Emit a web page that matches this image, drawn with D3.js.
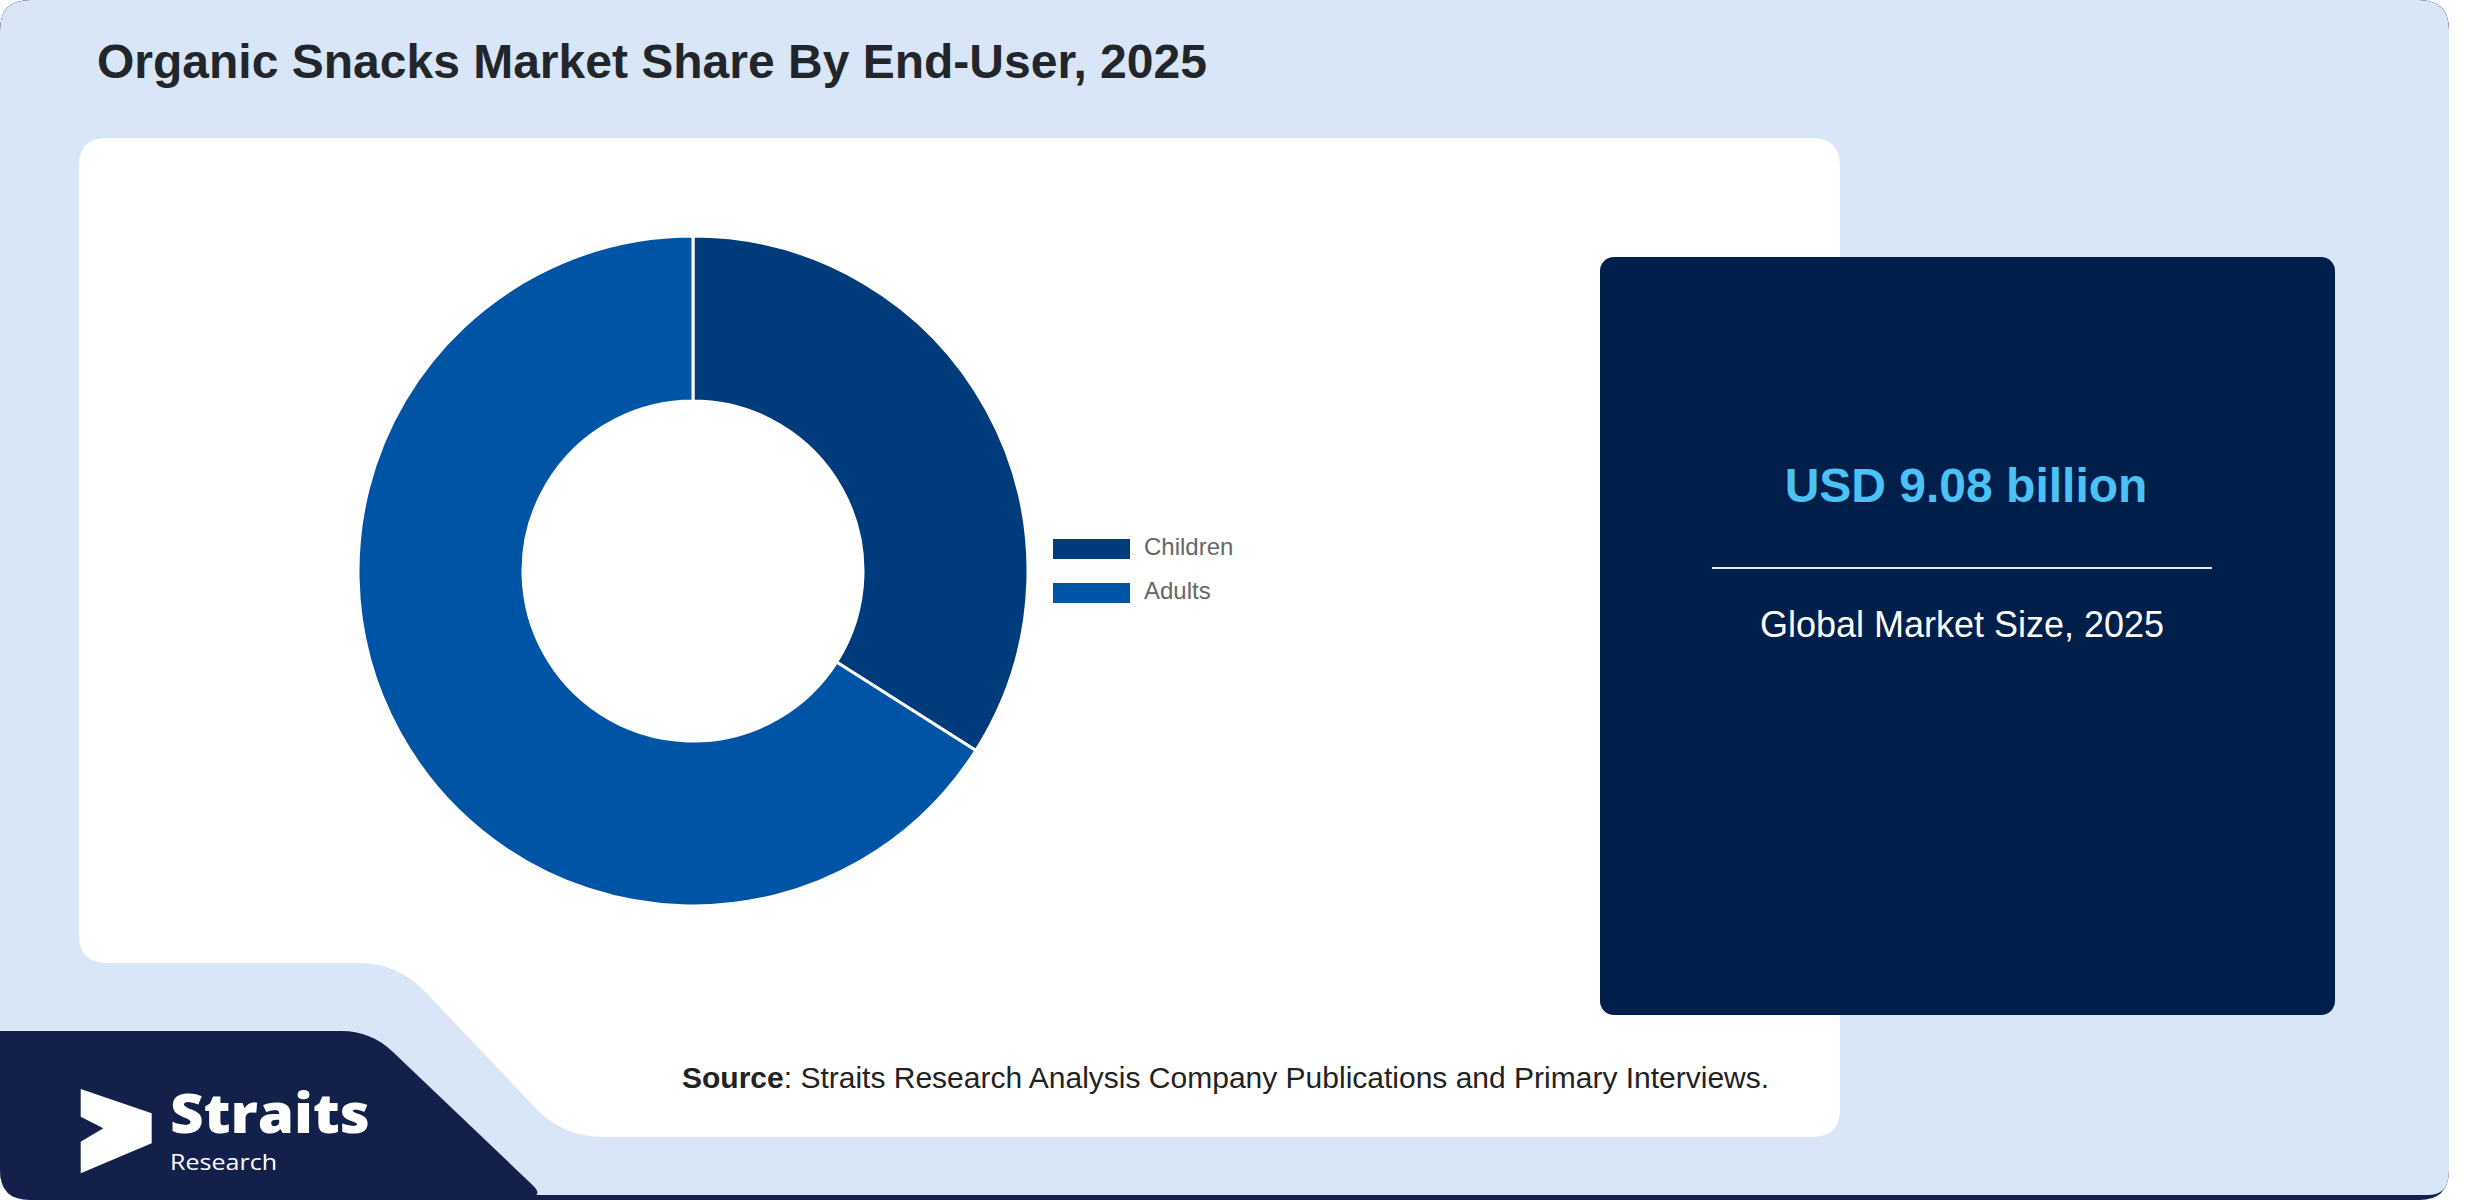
<!DOCTYPE html>
<html>
<head>
  <meta charset="utf-8">
  <script src="https://cdn.jsdelivr.net/npm/d3@7"></script>
  <style>
    body { margin: 0; background: #ffffff; }
    svg { display: block; font-family: "Liberation Sans", Arial, sans-serif; }
  </style>
</head>
<body>
  <svg width="2480" height="1200"></svg>
<script>
  // data
  const categories = ['Children', 'Adults'];
  const shares = [34, 66];
  const sliceColors = ['#003b7b', '#0054a6'];
  const marketValue = 'USD 9.08 billion';
  const marketLabel = 'Global Market Size, 2025';
  const title = 'Organic Snacks Market Share By End-User, 2025';

  const svg = d3.select('svg');

  // polygon with rounded corners (quadratic at each vertex)
  function roundedPoly(pts, r) {
    const n = pts.length;
    let d = '';
    for (let i = 0; i < n; i++) {
      const p0 = pts[(i - 1 + n) % n], p1 = pts[i], p2 = pts[(i + 1) % n];
      const rr = Array.isArray(r) ? r[i] : r;
      const l1 = Math.hypot(p1[0] - p0[0], p1[1] - p0[1]);
      const l2 = Math.hypot(p2[0] - p1[0], p2[1] - p1[1]);
      const a = [p1[0] + (p0[0] - p1[0]) * Math.min(rr / l1, 0.5), p1[1] + (p0[1] - p1[1]) * Math.min(rr / l1, 0.5)];
      const b = [p1[0] + (p2[0] - p1[0]) * Math.min(rr / l2, 0.5), p1[1] + (p2[1] - p1[1]) * Math.min(rr / l2, 0.5)];
      d += (i === 0 ? 'M' : 'L') + a[0] + ',' + a[1] + ' Q' + p1[0] + ',' + p1[1] + ' ' + b[0] + ',' + b[1] + ' ';
    }
    return d + 'Z';
  }

  // outer card
  const cardW = 2449, cardH = 1200;
  svg.append('clipPath').attr('id', 'card')
    .append('path').attr('d', roundedPoly([[0, 0], [cardW, 0], [cardW, cardH], [0, cardH]], 30));
  const card = svg.append('g').attr('clip-path', 'url(#card)');

  card.append('rect').attr('width', cardW).attr('height', cardH).attr('fill', '#13214a');
  card.append('path')
    .attr('d', roundedPoly([[0, 0], [cardW, 0], [cardW, 1195], [0, 1195]], [30, 30, 22, 0]))
    .attr('fill', '#d9e6f8');

  // navy band bottom-left
  card.append('path')
    .attr('d', roundedPoly([[0, 1031], [371, 1031], [545, 1197], [0, 1197]], [0, 30, 18, 0]))
    .attr('fill', '#13214a');

  // white panel
  card.append('path')
    .attr('d', roundedPoly([[79, 138], [1840, 138], [1840, 1137], [563, 1137], [398, 963], [79, 963]], [28, 28, 28, 40, 40, 28]))
    .attr('fill', '#ffffff');

  // title
  svg.append('text')
    .attr('x', 97)
    .attr('y', 78)
    .attr('font-size', 48)
    .attr('font-weight', 'bold')
    .attr('fill', '#22262b')
    .text(title);

  // donut
  const cx = 693, cy = 571;
  const pie = d3.pie().sort(null).value(d => d)(shares);
  const arc = d3.arc().innerRadius(170).outerRadius(335);
  const donut = svg.append('g').attr('transform', `translate(${cx}, ${cy})`);
  donut.selectAll('path')
    .data(pie)
    .enter()
    .append('path')
    .attr('d', arc)
    .attr('fill', (d, i) => sliceColors[i])
    .attr('stroke', '#ffffff')
    .attr('stroke-width', 3);

  // legend
  const legendY = d3.scalePoint().domain(categories).range([539, 583]);
  const legend = svg.selectAll('.legend')
    .data(categories)
    .enter()
    .append('g')
    .attr('class', 'legend')
    .attr('transform', d => `translate(1053, ${legendY(d)})`);
  legend.append('rect')
    .attr('width', 77)
    .attr('height', 20)
    .attr('fill', (d, i) => sliceColors[i]);
  legend.append('text')
    .attr('x', 91)
    .attr('y', 16)
    .attr('font-size', 24)
    .attr('fill', '#666666')
    .text(d => d);

  // market size box
  svg.append('rect')
    .attr('x', 1600).attr('y', 257)
    .attr('width', 735).attr('height', 758)
    .attr('rx', 14)
    .attr('fill', '#011f4b');
  svg.append('text')
    .attr('x', 1966).attr('y', 502)
    .attr('text-anchor', 'middle')
    .attr('font-size', 48)
    .attr('font-weight', 'bold')
    .attr('fill', '#4cc2f4')
    .text(marketValue);
  svg.append('line')
    .attr('x1', 1712).attr('x2', 2212)
    .attr('y1', 568).attr('y2', 568)
    .attr('stroke', '#e6e9ef')
    .attr('stroke-width', 2);
  svg.append('text')
    .attr('x', 1962).attr('y', 637)
    .attr('text-anchor', 'middle')
    .attr('font-size', 36)
    .attr('fill', '#ffffff')
    .text(marketLabel);

  // source
  const source = svg.append('text')
    .attr('x', 682).attr('y', 1088)
    .attr('font-size', 30)
    .attr('fill', '#222222');
  source.append('tspan').attr('font-weight', 'bold').text('Source');
  source.append('tspan').text(': Straits Research Analysis Company Publications and Primary Interviews.');

  // logo
  svg.append('path')
    .attr('d', 'M80.7,1089 L151.7,1113.3 L151.7,1143.3 L80.7,1173.3 L80.7,1141.7 L103.3,1128.3 L80.7,1116.7 Z')
    .attr('fill', '#ffffff');
  svg.append('text')
    .attr('x', 170).attr('y', 1133)
    .attr('font-family', '"Open Sans", "Noto Sans", sans-serif')
    .attr('font-size', 54)
    .attr('font-weight', 800)
    .attr('textLength', 200)
    .attr('lengthAdjust', 'spacingAndGlyphs')
    .attr('fill', '#ffffff')
    .text('Straits');
  svg.append('text')
    .attr('x', 170).attr('y', 1170)
    .attr('font-family', '"Open Sans", "Noto Sans", sans-serif')
    .attr('font-size', 22)
    .attr('textLength', 107)
    .attr('lengthAdjust', 'spacingAndGlyphs')
    .attr('fill', '#ffffff')
    .text('Research');
</script>
</body>
</html>
